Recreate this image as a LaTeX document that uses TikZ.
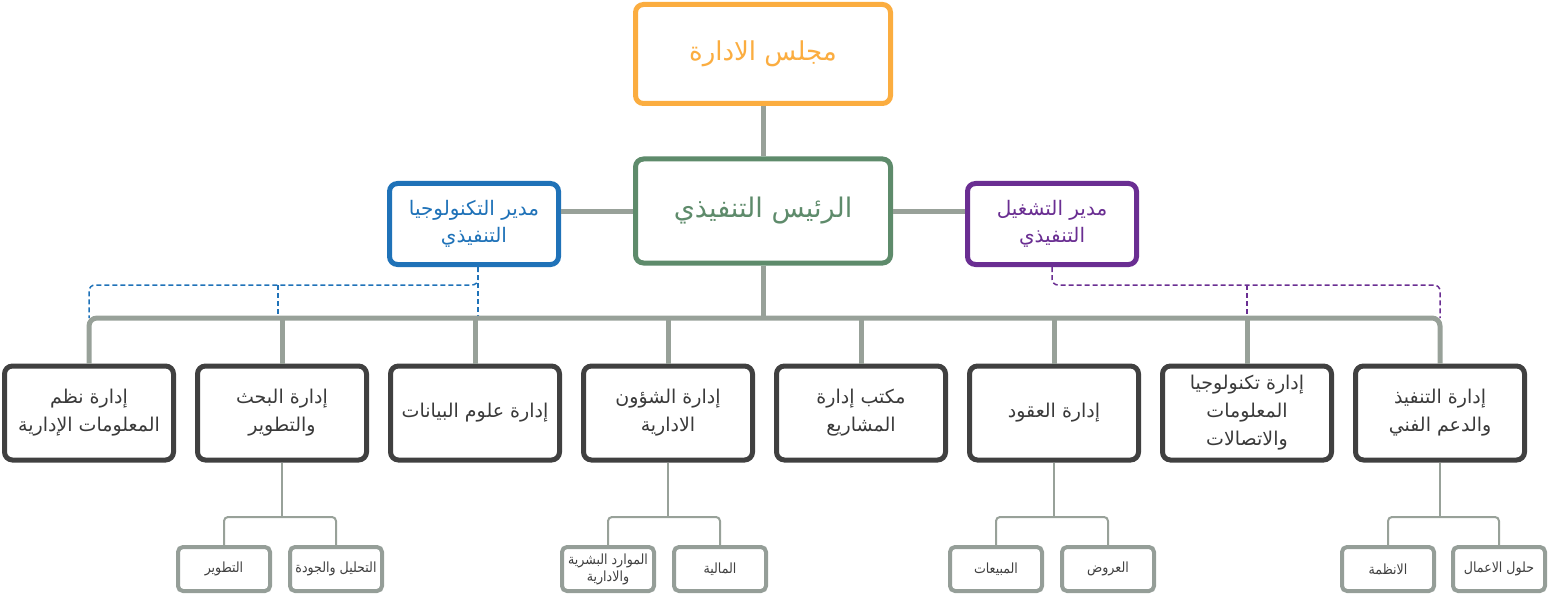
\documentclass[tikz,border=0pt]{standalone}
\usepackage{fontspec}
\TeXXeTstate=1
\newfontfamily\arabicfont[Script=Arabic]{DejaVu Sans}
\newfontfamily\arabicsub[Script=Arabic]{DejaVu Sans Condensed}
\newcommand{\artxt}[1]{\beginR #1\endR}
\definecolor{boardorange}{HTML}{FBAD40}
\definecolor{ceogreen}{HTML}{5E8B6B}
\definecolor{techblue}{HTML}{1F72B8}
\definecolor{opspurple}{HTML}{6A2E92}
\definecolor{deptgray}{HTML}{404040}
\definecolor{linegray}{HTML}{98A199}
\definecolor{subgray}{HTML}{959E98}
\tikzset{
  box/.style={draw, fill=white, rounded corners=8pt, align=center, line width=5pt, inner sep=2pt},
  boardbox/.style={box, draw=boardorange, text=boardorange, minimum width=255pt, minimum height=99pt,
    font=\arabicfont\fontsize{26}{32}\selectfont},
  ceobox/.style={boardbox, draw=ceogreen, text=ceogreen, minimum height=104pt, font=\arabicfont\fontsize{27}{32}\selectfont},
  chiefbox/.style={box, minimum width=169pt, minimum height=81pt,
    font=\arabicfont\fontsize{20}{27}\selectfont},
  deptbox/.style={box, draw=deptgray, text=deptgray!90!black, minimum width=169pt, minimum height=94pt,
    font=\arabicfont\fontsize{19}{28}\selectfont},
  subbox/.style={box, line width=4pt, rounded corners=5pt, draw=subgray, text=deptgray, minimum width=92pt,
    minimum height=44pt, font=\arabicsub\fontsize{14}{17}\selectfont},
  conn/.style={draw=linegray, line width=5pt},
  subconn/.style={draw=linegray, line width=2pt},
  techdash/.style={draw=techblue, line width=1.5pt, dash pattern=on 5pt off 3pt},
  opsdash/.style={draw=opspurple, line width=1.5pt, dash pattern=on 5pt off 3pt},
}
\begin{document}
\begin{tikzpicture}[x=1pt,y=-1pt]
  \useasboundingbox (0,0) rectangle (1549,596);
  % Levels
  \coordinate (bus) at (763,318);
  \coordinate (techL) at (89,285);
  \coordinate (opsR) at (1440,285);
  \coordinate (subline) at (0,517);
  % Dashed reporting lines
  \draw[techdash] (478,267) -- (478,318);
  \draw[techdash, rounded corners=6pt] (478,267) |- (techL) -- (techL |- bus);
  \draw[techdash] (278,285) -- (278,318);
  \draw[opsdash, rounded corners=6pt] (1052,267) |- (opsR) -- (opsR |- bus);
  \draw[opsdash] (1247,285) -- (1247,318);
  % Top boxes
  \node[boardbox] (board) at (763,54) {\artxt{مجلس الادارة}};
  \node[ceobox] (ceo) at (763,211) {\artxt{الرئيس التنفيذي}};
  \node[chiefbox, draw=techblue, text=techblue] (cto) at (474,224)
    {\artxt{مدير التكنولوجيا}\\\artxt{التنفيذي}};
  \node[chiefbox, draw=opspurple, text=opspurple] (coo) at (1052,224)
    {\artxt{مدير التشغيل}\\\artxt{التنفيذي}};
  % Departments
  \node[deptbox] (d1) at (89,413) {\artxt{إدارة نظم}\\\artxt{المعلومات الإدارية}};
  \node[deptbox] (d2) at (282,413) {\artxt{إدارة البحث}\\\artxt{والتطوير}};
  \node[deptbox] (d3) at (475,413) {\artxt{إدارة علوم البيانات}};
  \node[deptbox] (d4) at (668,413) {\artxt{إدارة الشؤون}\\\artxt{الادارية}};
  \node[deptbox] (d5) at (861,413) {\artxt{مكتب إدارة}\\\artxt{المشاريع}};
  \node[deptbox] (d6) at (1054,413) {\artxt{إدارة العقود}};
  \node[deptbox] (d7) at (1247,413) {\artxt{إدارة تكنولوجيا}\\\artxt{المعلومات}\\\artxt{والاتصالات}};
  \node[deptbox] (d8) at (1440,413) {\artxt{إدارة التنفيذ}\\\artxt{والدعم الفني}};
  % Sections
  \node[subbox] (s2a) at (224,569) {\artxt{التطوير}};
  \node[subbox] (s2b) at (336,569) {\artxt{التحليل والجودة}};
  \node[subbox] (s4a) at (608,569) {\artxt{الموارد البشرية}\\\artxt{والادارية}};
  \node[subbox] (s4b) at (720,569) {\artxt{المالية}};
  \node[subbox] (s6a) at (996,569) {\artxt{المبيعات}};
  \node[subbox] (s6b) at (1108,569) {\artxt{العروض}};
  \node[subbox] (s8a) at (1388,569) {\artxt{الانظمة}};
  \node[subbox] (s8b) at (1499,569) {\artxt{حلول الاعمال}};
  % Main connectors
  \draw[conn] (board) -- (ceo);
  \draw[conn] (ceo.west) -- (cto.east |- ceo.west);
  \draw[conn] (ceo.east) -- (coo.west |- ceo.east);
  \draw[conn] (ceo.south) -- (bus);
  \draw[conn, rounded corners=8pt] (d1.north) |- (bus) -| (d8.north);
  \foreach \i in {2,...,7}
    \draw[conn] (d\i.north) -- (d\i.north |- bus);
  % Section connectors
  \foreach \i in {2,4,6,8} {
    \draw[subconn] (d\i.south) -- (d\i.south |- subline);
    \draw[subconn, rounded corners=4pt] (s\i a.north) |- (s\i b.north |- subline) -- (s\i b.north);
  }
\end{tikzpicture}
\end{document}
